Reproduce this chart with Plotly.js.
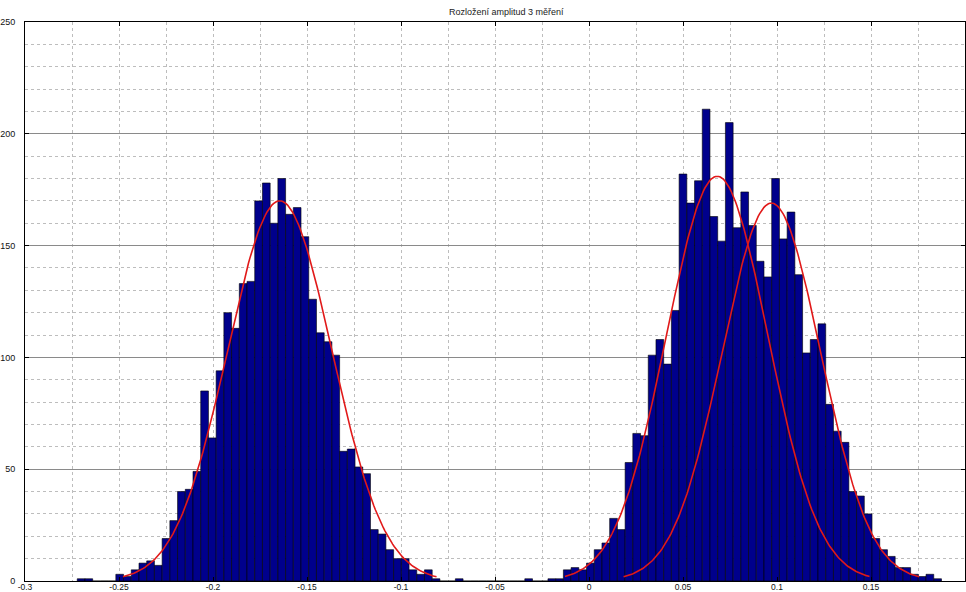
<!DOCTYPE html>
<html>
<head>
<meta charset="utf-8">
<script src="https://cdn.plot.ly/plotly-3.0.1.min.js"></script>
<style>
html,body{margin:0;padding:0;background:#ffffff;}
#chart{width:966px;height:592px;}
</style>
</head>
<body>
<div id="chart"></div>
<script>
// Histogram bins (equal width)
const binStart = -0.2722;
const binWidth = 0.0041043;
const counts = [
  1,1,0,0,0,3,2,5,8,9,
  7,19,27,40,41,49,85,64,94,120,
  113,133,134,170,178,160,180,164,167,154,
  126,111,107,101,58,59,51,48,23,21,
  14,10,10,5,3,5,1,0,0,1,
  0,0,0,0,0,0,0,0,1,0,
  0,1,1,5,6,5,8,14,17,28,
  23,53,66,65,101,108,97,121,182,169,
  179,211,163,152,205,158,174,159,143,136,
  180,153,165,137,102,108,115,79,67,62,
  40,38,30,19,14,11,6,6,3,2,
  3,1
];

// Fitted normal curves (mean, sigma, peak height)
const fitMeans  = [-0.1645, 0.0682, 0.0970];
const fitSigmas = [0.0278, 0.0270, 0.0262];
const fitPeaks  = [170, 181, 169];

const xTickVals = [-0.3,-0.25,-0.2,-0.15,-0.1,-0.05,0,0.05,0.1,0.15,0.2];
const xTickText = ['-0.3','-0.25','-0.2','-0.15','-0.1','-0.05','0','0.05','0.1','0.15','0.2'];
const yTickVals = [0,50,100,150,200,250];
const yTickText = ['0','50','100','150','200','250'];

const titleText = 'Rozložení amplitud 3 měření';

const binCenters = counts.map((_, i) => binStart + (i + 0.5) * binWidth);

const traces = [{
  type: 'bar',
  x: binCenters,
  y: counts,
  width: binWidth,
  marker: {color: 'rgb(0,0,140)', line: {color: '#000000', width: 0.6}},
  hoverinfo: 'skip'
}];

for (let k = 0; k < fitMeans.length; k++) {
  const xs = [], ys = [];
  const m = fitMeans[k], s = fitSigmas[k], p = fitPeaks[k];
  const n = 200;
  for (let j = 0; j <= n; j++) {
    const x = m - 3 * s + (6 * s) * j / n;
    xs.push(x);
    ys.push(p * Math.exp(-0.5 * ((x - m) / s) * ((x - m) / s)));
  }
  traces.push({
    type: 'scatter', mode: 'lines', x: xs, y: ys,
    line: {color: 'rgb(225,25,25)', width: 1.6},
    hoverinfo: 'skip'
  });
}

const fontFam = '"Liberation Sans", Arial, sans-serif';

const layout = {
  width: 966, height: 592,
  margin: {l: 25, r: 1, t: 22, b: 11, pad: 0},
  paper_bgcolor: '#ffffff', plot_bgcolor: '#ffffff',
  showlegend: false,
  bargap: 0,
  title: {
    text: titleText,
    font: {family: fontFam, size: 9, color: '#222222'},
    x: 0.512, xref: 'paper', xanchor: 'center',
    y: 0.98, yref: 'container', yanchor: 'middle'
  },
  xaxis: {
    range: [-0.3, 0.2],
    tickmode: 'array', tickvals: xTickVals, ticktext: xTickText,
    ticks: 'inside', ticklen: 4, tickcolor: '#000000', tickwidth: 1,
    showline: true, linecolor: '#000000', linewidth: 1, mirror: 'ticks',
    showgrid: true, gridcolor: '#bdbdbd', griddash: 'dot', gridwidth: 1,
    minor: {dtick: 0.025, tick0: 0, showgrid: true, gridcolor: '#bdbdbd', griddash: 'dot', gridwidth: 1, ticks: ''},
    zeroline: false, automargin: false, fixedrange: true,
    tickfont: {family: fontFam, size: 8.5, color: '#111111'},
    ticklabelstandoff: -2
  },
  yaxis: {
    range: [0, 250],
    tickmode: 'array', tickvals: yTickVals, ticktext: yTickText,
    ticks: 'inside', ticklen: 4, tickcolor: '#000000', tickwidth: 1,
    showline: true, linecolor: '#000000', linewidth: 1, mirror: 'ticks',
    showgrid: true, gridcolor: '#8a8a8a', griddash: 'solid', gridwidth: 1,
    minor: {dtick: 10, tick0: 0, showgrid: true, gridcolor: '#bdbdbd', griddash: 'dot', gridwidth: 1, ticks: ''},
    zeroline: false, automargin: false, fixedrange: true,
    tickfont: {family: fontFam, size: 9, color: '#111111'},
    ticklabelstandoff: 7
  }
};

Plotly.newPlot('chart', traces, layout, {staticPlot: true, displayModeBar: false});
</script>
</body>
</html>
